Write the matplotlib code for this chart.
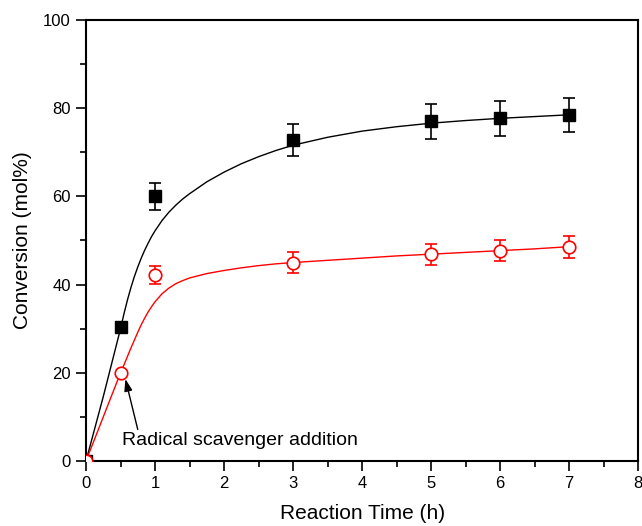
import numpy as np
import matplotlib.pyplot as plt

plt.rcParams['font.family'] = ['Liberation Sans', 'DejaVu Sans']

# measured points
time_h = [0, 0.5, 1, 3, 5, 6, 7]
conv_black = [0, 30.3, 60.0, 72.8, 77.0, 77.7, 78.5]
err_black = [0, 1.3, 3.0, 3.6, 3.9, 3.9, 3.9]
conv_red = [0, 20.0, 42.2, 45.0, 46.9, 47.7, 48.6]
err_red = [0, 0, 2.0, 2.3, 2.4, 2.4, 2.5]

# fitted curves
fit_black_x = [0, 0.25, 0.5, 0.55, 0.6, 0.65, 0.7, 0.75, 0.8, 0.85, 0.9, 0.95, 1.0,
               1.1, 1.2, 1.3, 1.4, 1.5, 1.75, 2.0, 2.25, 2.5, 2.75, 3.0,
               3.5, 4.0, 4.5, 5.0, 5.5, 6.0, 6.5, 7.0]
fit_black_y = [0, 14.6, 30.0, 33.4, 36.5, 39.3, 41.8, 44.0, 46.0, 47.8, 49.4, 50.9, 52.2,
               54.5, 56.4, 58.0, 59.4, 60.6, 63.3, 65.5, 67.4, 69.0, 70.4, 71.6,
               73.4, 74.8, 75.8, 76.6, 77.2, 77.7, 78.1, 78.5]
fit_red_x = [0, 0.25, 0.5, 0.55, 0.6, 0.65, 0.7, 0.75, 0.8, 0.85, 0.9, 0.95, 1.0,
             1.1, 1.2, 1.3, 1.4, 1.5, 1.75, 2.0, 2.25, 2.5, 2.75, 3.0,
             3.5, 4.0, 4.5, 5.0, 5.5, 6.0, 6.5, 7.0]
fit_red_y = [0, 10.0, 20.0, 21.8, 23.7, 25.6, 27.4, 29.2, 30.9, 32.4, 33.8, 35.0, 36.1,
             37.9, 39.2, 40.2, 40.9, 41.5, 42.5, 43.2, 43.8, 44.3, 44.7, 45.0,
             45.5, 46.0, 46.5, 46.9, 47.3, 47.7, 48.1, 48.6]

fig = plt.figure(figsize=(6.42, 5.26), dpi=100)
ax = fig.add_axes([0.134, 0.1236, 0.860, 0.8384])

ax.plot(fit_black_x, fit_black_y, color='black', lw=1.0)
ax.plot(fit_red_x, fit_red_y, color='red', lw=1.0)

ax.errorbar(time_h, conv_black, yerr=err_black, fmt='s', color='black',
            ms=8, capsize=4, elinewidth=1.2, capthick=1.2, zorder=3)
ax.errorbar(time_h, conv_red, yerr=err_red, fmt='o', color='red', mfc='white',
            mec='red', mew=1.2, ms=9, capsize=4, elinewidth=1.2, capthick=1.2, zorder=3)

ax.annotate('Radical scavenger addition', xy=(0.57, 18.6), xytext=(0.52, 4.6),
            fontsize=14, va='center', ha='left',
            arrowprops=dict(arrowstyle='-|>,head_length=0.6,head_width=0.2',
                            color='black', lw=1.0,
                            mutation_scale=12, shrinkA=0, shrinkB=0,
                            relpos=(0.07, 1.0)))

ax.set_xlim(0, 8)
ax.set_ylim(0, 100)
ax.set_xticks(range(0, 9))
ax.set_yticks(range(0, 101, 20))
ax.set_xticks(np.arange(0.5, 8, 1), minor=True)
ax.set_yticks(range(10, 100, 20), minor=True)
ax.tick_params(which='major', direction='out', length=7, width=1.2, labelsize=12, pad=4)
ax.tick_params(which='minor', direction='out', length=4, width=1.2)
for s in ax.spines.values():
    s.set_linewidth(1.5)

ax.set_xlabel('Reaction Time (h)', fontsize=15, labelpad=9)
ax.set_ylabel('Conversion (mol%)', fontsize=15, labelpad=8)

fig.savefig('out.png', dpi=100)
